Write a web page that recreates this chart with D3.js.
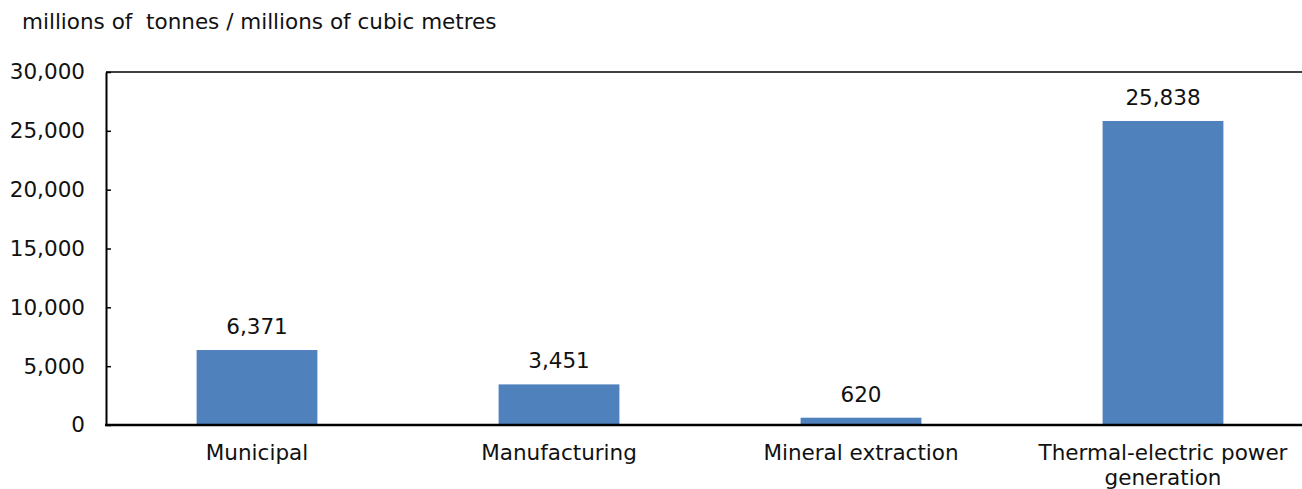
<!DOCTYPE html>
<html>
<head>
<meta charset="utf-8">
<script src="https://cdn.jsdelivr.net/npm/d3@7"></script>
<style>
  html, body { margin: 0; padding: 0; background: #fff; }
  svg { display: block; font-family: "DejaVu Sans", Verdana, sans-serif; }
</style>
</head>
<body>
<svg id="chart" width="1302" height="489"></svg>
<script>
// Water use by sector
const categories = ["Municipal", "Manufacturing", "Mineral extraction", "Thermal-electric power generation"];
const values = [6371, 3451, 620, 25838];
const yTicks = [0, 5000, 10000, 15000, 20000, 25000, 30000];
const yTitle = "millions of  tonnes / millions of cubic metres";

const svg = d3.select("#chart");
const plotLeft = 106, plotRight = 1314, plotTop = 72, plotBottom = 425;
const fontSize = 21.5;

const x = d3.scaleBand().domain(categories).range([plotLeft, plotRight]).paddingInner(0.6).paddingOuter(0.3);
const y = d3.scaleLinear().domain([0, 30000]).range([plotBottom, plotTop]);
const fmt = d3.format(",");

// axis title
svg.append("text")
  .attr("x", 22).attr("y", 29)
  .attr("font-size", fontSize)
  .attr("fill", "#111")
  .style("white-space", "pre")
  .text(yTitle);

// bars
svg.append("g").selectAll("rect")
  .data(categories)
  .join("rect")
  .attr("x", d => x(d))
  .attr("width", x.bandwidth())
  .attr("y", (d, i) => y(values[i]))
  .attr("height", (d, i) => plotBottom - y(values[i]))
  .attr("fill", "#4F81BD");

// value labels
svg.append("g").selectAll("text")
  .data(categories)
  .join("text")
  .attr("x", d => x(d) + x.bandwidth() / 2)
  .attr("y", (d, i) => y(values[i]) - 16)
  .attr("text-anchor", "middle")
  .attr("font-size", fontSize)
  .attr("fill", "#111")
  .text((d, i) => fmt(values[i]));

// y axis
const yAxis = d3.axisLeft(y).tickValues(yTicks).tickFormat(fmt).tickSizeInner(-5).tickSizeOuter(0).tickPadding(21);
const gy = svg.append("g").attr("transform", `translate(${plotLeft},0)`).call(yAxis);
gy.select(".domain").attr("stroke", "#000").attr("stroke-width", 2);
gy.selectAll(".tick line").attr("stroke", "#000").attr("stroke-width", 1.5);
gy.selectAll(".tick text").attr("font-size", fontSize).attr("fill", "#111")
  .attr("font-family", "DejaVu Sans, Verdana, sans-serif");

// top frame line
svg.append("line")
  .attr("x1", plotLeft).attr("x2", 1302)
  .attr("y1", plotTop).attr("y2", plotTop)
  .attr("stroke", "#000").attr("stroke-width", 1.5);

// x axis baseline
svg.append("line")
  .attr("x1", plotLeft - 1).attr("x2", 1302)
  .attr("y1", plotBottom).attr("y2", plotBottom)
  .attr("stroke", "#000").attr("stroke-width", 2.5);

// category labels, wrapped
const catLines = {
  "Thermal-electric power generation": ["Thermal-electric power", "generation"]
};
const labels = svg.append("g").selectAll("text")
  .data(categories)
  .join("text")
  .attr("x", d => x(d) + x.bandwidth() / 2)
  .attr("y", 460)
  .attr("text-anchor", "middle")
  .attr("font-size", fontSize)
  .attr("fill", "#111");
labels.each(function(d) {
  const lines = catLines[d] || [d];
  d3.select(this).selectAll("tspan")
    .data(lines)
    .join("tspan")
    .attr("x", x(d) + x.bandwidth() / 2)
    .attr("dy", (l, i) => i === 0 ? 0 : 25)
    .text(l => l);
});
</script>
</body>
</html>
